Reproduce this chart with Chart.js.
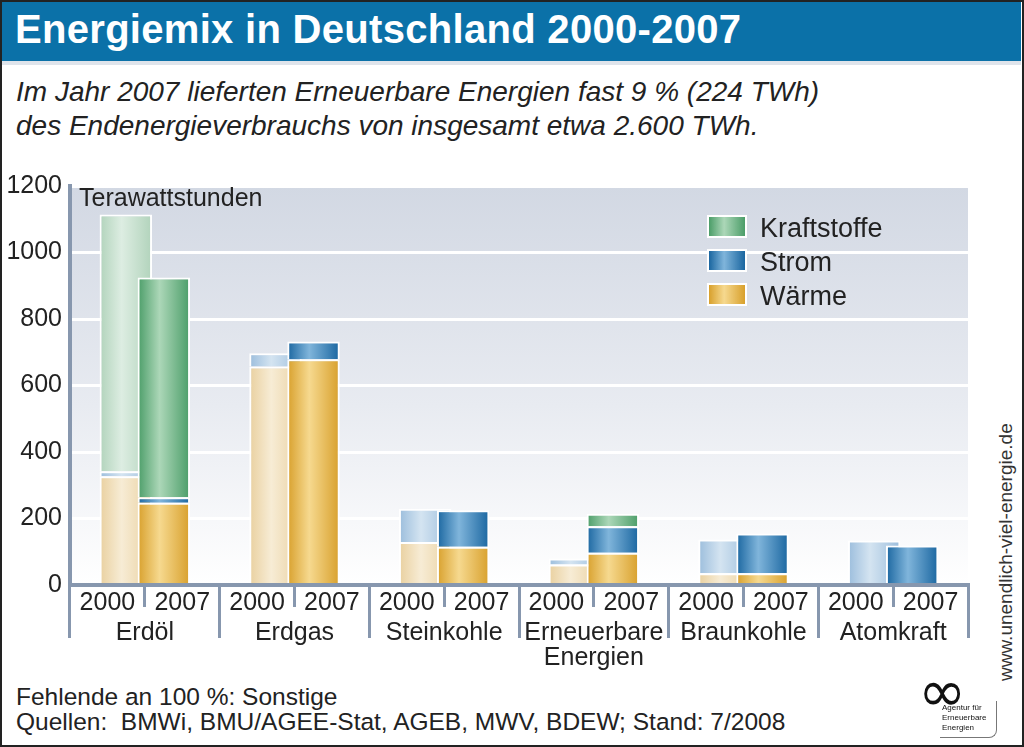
<!DOCTYPE html>
<html>
<head>
<meta charset="utf-8">
<script src="https://cdn.jsdelivr.net/npm/chart.js@4.4.1/dist/chart.umd.min.js"></script>
<style>
  body { margin: 0; background: #fff; font-family: "Liberation Sans", Arial, Helvetica, sans-serif; }
  #frame { position: relative; width: 1024px; height: 747px; overflow: hidden; background: #fff; }
  #border { position: absolute; left: 0; top: 0; width: 1020px; height: 743px; border: 2px solid #222; z-index: 5; pointer-events: none; }
  #titlebar { position: absolute; left: 2px; top: 2px; width: 1019px; height: 59px; background: #0b71a8; }
  #titleline { position: absolute; left: 2px; top: 61px; width: 1019px; height: 4px; background: #dfe4eb; }
  #title { position: absolute; left: 15px; top: 0; line-height: 59px; font-size: 40px; letter-spacing: 0.3px; font-weight: bold; color: #fff; white-space: nowrap; }
  .sub { position: absolute; left: 16px; font-size: 28px; font-style: italic; color: #222; line-height: 34px; white-space: nowrap; }
  #chartbox { position: absolute; left: 0; top: 160px; width: 990px; height: 520px; }
  #unit { position: absolute; left: 79px; top: 185px; font-size: 25px; line-height: 25px; color: #222; }
  .legitem { position: absolute; left: 707px; height: 23px; }
  .legitem .sw { position: absolute; left: 0; top: 0; width: 36px; height: 19px; border: 2px solid #fff; }
  .legitem .tx { position: absolute; left: 53px; top: -1px; font-size: 27px; line-height: 29px; color: #222; white-space: nowrap; }
  .foot { position: absolute; left: 16px; font-size: 24.5px; line-height: 26px; color: #222; white-space: nowrap; }
  #url { position: absolute; left: 995px; top: 681px; font-size: 19px; line-height: 21px; color: #333; white-space: nowrap; transform: rotate(-90deg); transform-origin: 0 0; }
  #logo { position: absolute; left: 918px; top: 676px; width: 84px; height: 64px; }
  #logo .inf { position: absolute; left: 0; top: -14px; font-family: "DejaVu Sans", sans-serif; font-size: 58px; line-height: 58px; color: #111; }
  #logo .box { position: absolute; left: 22px; top: 25px; width: 56px; height: 36px; border-right: 1px solid #777; border-bottom: 1px solid #777; border-bottom-right-radius: 8px; }
  #logo .box span { position: absolute; left: 2px; top: 2px; font-size: 8px; line-height: 10px; color: #111; }
</style>
</head>
<body>
<div id="frame">
  <div id="titlebar"></div>
  <div id="titleline"></div>
  <div id="title">Energiemix in Deutschland 2000-2007</div>
  <div class="sub" style="top:75px">Im Jahr 2007 lieferten Erneuerbare Energien fast 9 % (224 TWh)</div>
  <div class="sub" style="top:109px">des Endenergieverbrauchs von insgesamt etwa 2.600 TWh.</div>

  <div id="chartbox"><canvas id="energyChart" width="990" height="520"></canvas></div>
  <div id="unit">Terawattstunden</div>
  <div id="legend"></div>

  <div class="foot" style="top:684px">Fehlende an 100 %: Sonstige</div>
  <div class="foot" style="top:709px">Quellen:&nbsp; BMWi, BMU/AGEE-Stat, AGEB, MWV, BDEW; Stand: 7/2008</div>
  <div id="url">www.unendlich-viel-energie.de</div>
  <div id="logo">
    <div class="inf">∞</div>
    <div class="box"><span>Agentur für<br>Erneuerbare<br>Energien</span></div>
  </div>
  <div id="border"></div>
</div>

<script>
// Kategorien und Jahre
const categories = ['Erdöl', 'Erdgas', 'Steinkohle', ['Erneuerbare', 'Energien'], 'Braunkohle', 'Atomkraft'];
const yearLabels = ['2000', '2007', '2000', '2007', '2000', '2007', '2000', '2007', '2000', '2007', '2000', '2007'];
const yTicks = [0, 200, 400, 600, 800, 1000, 1200];

// Werte in TWh
const waerme2000 = [327, 657, 129, 62, 35, 0];
const strom2000  = [15, 40, 100, 18, 102, 134];
const kraft2000  = [772, 0, 0, 0, 0, 0];
const waerme2007 = [247, 679, 115, 97, 35, 0];
const strom2007  = [17, 53, 110, 80, 120, 119];
const kraft2007  = [661, 0, 0, 37, 0, 0];

const axisColor = '#8797ae';
const font = '"Liberation Sans", Arial, Helvetica, sans-serif';

// edge / middle colours for the cylinder look
const colors = {
    waerme: { y2007: ['#d8a02c', '#f6d98f'], y2000: ['#e9d09f', '#f7ecd5'] },
    strom:  { y2007: ['#1a66a0', '#80b5db'], y2000: ['#9bbddc', '#d4e4f1'] },
    kraft:  { y2007: ['#4b9d68', '#acd7b8'], y2000: ['#b1d3bb', '#ddede2'] }
};

function cylinder(pair) {
    return function(ctx) {
        const el = ctx.element;
        if (!el || typeof el.x !== 'number' || !el.width) return pair[0];
        const x0 = el.x - el.width / 2;
        const g = ctx.chart.ctx.createLinearGradient(x0, 0, x0 + el.width, 0);
        g.addColorStop(0, pair[0]);
        g.addColorStop(0.42, pair[1]);
        g.addColorStop(1, pair[0]);
        return g;
    };
}

function barSet(label, data, stack, pair) {
    return {
        label: label,
        data: data,
        stack: stack,
        xAxisID: 'x',
        backgroundColor: cylinder(pair),
        borderColor: '#ffffff',
        borderWidth: 2,
        categoryPercentage: 0.508,
        barPercentage: 1.38
    };
}

// plot background gradient
const plotBg = {
    id: 'plotBg',
    beforeDraw(chart) {
        const { ctx, chartArea: a } = chart;
        const g = ctx.createLinearGradient(0, a.top, 0, a.bottom);
        g.addColorStop(0, '#d2d8e3');
        g.addColorStop(0.55, '#e8ebf1');
        g.addColorStop(1, '#ffffff');
        ctx.save();
        ctx.fillStyle = g;
        ctx.fillRect(a.left, a.top, a.right - a.left, a.bottom - a.top);
        ctx.restore();
    }
};

// first (empty) set only fixes the 2000 stack on the left,
// 2007 sets come before the 2000 sets so they are drawn on top
const datasets = [
    { label: '', data: [0, 0, 0, 0, 0, 0], stack: '2000', xAxisID: 'x', borderWidth: 0, categoryPercentage: 0.508, barPercentage: 1.38 },
    barSet('Wärme', waerme2007, '2007', colors.waerme.y2007),
    barSet('Strom', strom2007, '2007', colors.strom.y2007),
    barSet('Kraftstoffe', kraft2007, '2007', colors.kraft.y2007),
    barSet('Wärme 2000', waerme2000, '2000', colors.waerme.y2000),
    barSet('Strom 2000', strom2000, '2000', colors.strom.y2000),
    barSet('Kraftstoffe 2000', kraft2000, '2000', colors.kraft.y2000)
];

const energyChart = new Chart(document.getElementById('energyChart').getContext('2d'), {
    type: 'bar',
    data: { labels: categories, datasets: datasets },
    options: {
        responsive: false,
        animation: false,
        devicePixelRatio: 1,
        layout: { padding: { top: 26, right: 22, left: 0, bottom: 42 } },
        plugins: { legend: { display: false }, tooltip: { enabled: false } },
        scales: {
            y: {
                stacked: true,
                min: 0,
                max: 1200,
                afterBuildTicks: function(scale) { scale.ticks = yTicks.map(v => ({ value: v })); },
                afterFit: function(scale) { scale.width = 70; },
                ticks: { padding: 8, color: '#222', font: { family: font, size: 25 }, callback: v => String(v) },
                grid: { color: '#ffffff', lineWidth: 3, drawTicks: false },
                border: { display: true, color: axisColor, width: 4 }
            },
            // mirror only to keep the labels from being clipped to the short axis box
            x2: {
                type: 'category',
                position: 'bottom',
                labels: yearLabels,
                offset: true,
                weight: 0,
                afterFit: function(scale) { scale.height = 22; },
                ticks: { mirror: true, padding: -30.5, color: '#222', maxRotation: 0, autoSkip: false, font: { family: font, size: 25, lineHeight: 1 } },
                grid: { offset: true, drawOnChartArea: false, drawTicks: true, tickLength: 22, color: axisColor, lineWidth: 3, z: 1 },
                border: { display: true, color: axisColor, width: 4, z: 1 }
            },
            x: {
                type: 'category',
                position: 'bottom',
                offset: true,
                weight: 1,
                afterFit: function(scale) { scale.height = 31; },
                ticks: { mirror: true, padding: -38.5, color: '#222', maxRotation: 0, autoSkip: false, font: { family: font, size: 25, lineHeight: 1 } },
                grid: { offset: true, drawOnChartArea: false, drawTicks: true, tickLength: 31, color: axisColor, lineWidth: 3 },
                border: { display: false }
            }
        }
    },
    plugins: [plotBg]
});
// second pass so the gradients know where each bar sits
energyChart.update();

// legend (2007 colours, top to bottom)
const legendItems = [
    { label: 'Kraftstoffe', pair: colors.kraft.y2007 },
    { label: 'Strom', pair: colors.strom.y2007 },
    { label: 'Wärme', pair: colors.waerme.y2007 }
];
const legendEl = document.getElementById('legend');
legendItems.forEach(function(item, i) {
    const row = document.createElement('div');
    row.className = 'legitem';
    row.style.top = (215 + i * 34) + 'px';
    const sw = document.createElement('div');
    sw.className = 'sw';
    sw.style.background = 'linear-gradient(to right, ' + item.pair[0] + ', ' + item.pair[1] + ' 42%, ' + item.pair[0] + ')';
    const tx = document.createElement('div');
    tx.className = 'tx';
    tx.innerText = item.label;
    row.appendChild(sw);
    row.appendChild(tx);
    legendEl.appendChild(row);
});
</script>
</body>
</html>
